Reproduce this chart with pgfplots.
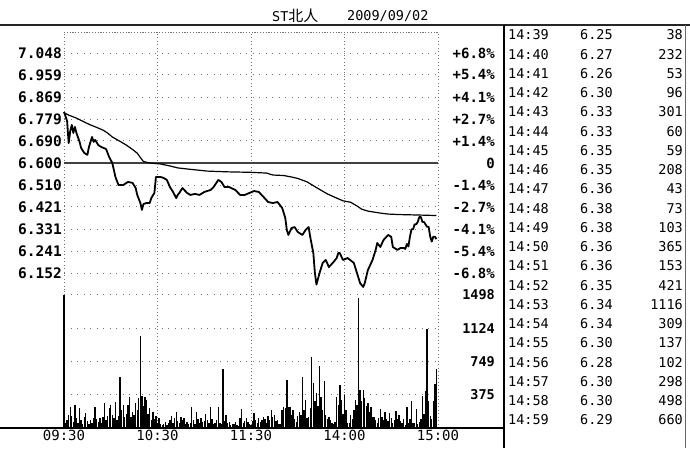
\documentclass[border=0pt]{standalone}
\usepackage{pgfplots}
\pgfplotsset{compat=1.18}
\usepackage{fontspec}
\setmainfont{DejaVu Sans Mono}
\newfontfamily\mono{DejaVu Sans Mono}
\newfontfamily\cjk{Noto Sans CJK SC}
\tikzset{
  hgrid/.style={black!55, line width=0.9pt, dash pattern=on 0.9pt off 5.6pt},
  vgrid/.style={black!55, line width=0.9pt, dash pattern=on 0.9pt off 2.6pt},
}
\newcommand\lab{\mono\bfseries\fontsize{14.5}{15}\selectfont}
\newcommand\tab{\mono\fontsize{13.5}{14}\selectfont}
\begin{document}
\begin{tikzpicture}[x=1pt,y=1pt]
\useasboundingbox (0,0) rectangle (690,448);
\fill[white] (0,0) rectangle (690,448);

% ---------- price panel ----------
\begin{axis}[
  at={(64pt,158pt)}, anchor=south west, scale only axis,
  width=374pt, height=258pt,
  xmin=0, xmax=240, ymin=6.0827, ymax=7.1336,
  axis line style={draw=none}, major tick length=0pt,
  xtick={0,60,120,180,240}, xticklabels={},
  ytick={6.152,6.241,6.331,6.421,6.510,6.600,6.690,6.779,6.869,6.959,7.048},
  yticklabels={6.152,6.241,6.331,6.421,6.510,6.600,6.690,6.779,6.869,6.959,7.048},
  yticklabel style={font=\lab, anchor=east, inner sep=0pt, xshift=-2pt},
  grid=major, x grid style={vgrid}, y grid style={hgrid},
  clip=false,
]
\draw[black!55, line width=0.9pt, dash pattern=on 1.2pt off 1.6pt] (rel axis cs:0,1) -- (rel axis cs:1,1);
\addplot[black!75, line width=1.3pt] coordinates {(0,6.6) (240,6.6)};
% average price
\addplot[black, line width=1.2pt] coordinates {
(0,6.805)(3,6.795)(8,6.783)(12,6.770)(17,6.755)(21,6.745)(25,6.734)(28,6.722)(31,6.706)
(36,6.688)(40,6.673)(44,6.655)(47,6.640)(49,6.622)(51,6.606)(55,6.600)(62,6.596)(68,6.588)
(73,6.580)(80,6.575)(92,6.567)(105,6.564)(120,6.562)(130,6.559)(134,6.551)(141,6.549)
(146,6.543)(150,6.537)(156,6.523)(162,6.500)(169,6.474)(175,6.457)(179,6.446)(184,6.440)
(188,6.425)(191,6.412)(195,6.404)(203,6.396)(208,6.392)(215,6.390)(228,6.388)(239,6.386)};
% price
\addplot[black, line width=1.8pt, line join=round] coordinates {
(0,6.808)(1,6.790)(2,6.770)(3,6.681)(4,6.730)(5,6.755)(6,6.722)(7,6.747)(8,6.722)(10,6.686)
(11,6.661)(13,6.641)(15,6.633)(16,6.665)(18,6.706)(19,6.686)(20,6.694)(22,6.673)(24,6.665)
(27,6.657)(29,6.624)(31,6.600)(33,6.543)(35,6.510)(38,6.510)(41,6.523)(44,6.519)(46,6.498)
(47,6.470)(49,6.437)(50,6.409)(51,6.433)(53,6.437)(55,6.437)(56,6.457)(58,6.478)(59,6.543)
(60,6.543)(62,6.543)(64,6.539)(66,6.531)(68,6.502)(70,6.482)(72,6.457)(73,6.470)(74,6.478)
(76,6.498)(79,6.478)(81,6.470)(84,6.474)(87,6.470)(90,6.482)(94,6.490)(96,6.502)(99,6.531)
(101,6.523)(103,6.502)(106,6.502)(110,6.490)(113,6.470)(116,6.470)(119,6.478)(122,6.486)
(125,6.482)(128,6.462)(131,6.441)(134,6.437)(137,6.441)(140,6.417)(142,6.376)(143,6.327)
(144,6.307)(146,6.335)(148,6.339)(150,6.319)(153,6.307)(155,6.327)(157,6.339)(158,6.299)
(160,6.233)(161,6.152)(162,6.105)(164,6.152)(166,6.193)(168,6.205)(170,6.176)(173,6.197)
(175,6.213)(176,6.233)(177,6.233)(179,6.205)(182,6.213)(186,6.193)(188,6.152)(190,6.111)
(192,6.095)(193,6.111)(195,6.164)(198,6.205)(200,6.246)(201,6.274)(203,6.258)(205,6.286)
(208,6.307)(210,6.299)(211,6.258)(214,6.246)(216,6.254)(218,6.254)(219,6.25)(220,6.27)
(221,6.26)(222,6.30)(223,6.33)(224,6.33)(225,6.35)(226,6.35)(227,6.36)(228,6.38)(229,6.38)
(230,6.36)(231,6.36)(232,6.35)(233,6.34)(234,6.34)(235,6.30)(236,6.28)(237,6.30)(238,6.30)
(239,6.29)};
\end{axis}

% ---------- percent labels (right) ----------
\begin{axis}[
  at={(64pt,158pt)}, anchor=south west, scale only axis,
  width=374pt, height=258pt,
  xmin=0, xmax=240, ymin=6.0827, ymax=7.1336,
  hide x axis, axis y line*=right, axis line style={draw=none}, major tick length=0pt,
  ytick={6.152,6.241,6.331,6.421,6.510,6.600,6.690,6.779,6.869,6.959,7.048},
  yticklabels={-6.8\%,-5.4\%,-4.1\%,-2.7\%,-1.4\%,0,+1.4\%,+2.7\%,+4.1\%,+5.4\%,+6.8\%},
  yticklabel style={font=\lab\fontsize{14}{15}\selectfont, anchor=east, inner sep=0pt, xshift=57pt},
]
\end{axis}

% ---------- volume panel ----------
\begin{axis}[
  at={(64pt,20pt)}, anchor=south west, scale only axis,
  width=374pt, height=138pt,
  xmin=0, xmax=240, ymin=0, ymax=1551,
  axis line style={draw=none}, major tick length=0pt,
  xtick={0,60,120,180,240}, xticklabels={09:30,10:30,11:30,14:00,15:00},
  xticklabel style={font=\mono\fontsize{14}{15}\selectfont, anchor=north, inner sep=0pt, yshift=-2pt},
  ytick={375,749,1124,1498}, yticklabels={375,749,1124,1498},
  yticklabel pos=right,
  yticklabel style={font=\lab\fontsize{13.5}{15}\selectfont, anchor=east, inner sep=0pt, xshift=57pt},
  grid=major, x grid style={vgrid}, y grid style={hgrid},
  clip=false,
]
\addplot[ycomb, black, line width=1.35pt] coordinates {
(0,1498)(1,60)(2,90)(3,150)(4,240)(5,130)(6,70)(7,260)(8,110)(9,60)
(10,220)(11,90)(12,50)(13,120)(14,170)(15,80)(16,40)(17,90)(18,60)(19,110)
(20,240)(21,100)(22,70)(23,110)(24,60)(25,120)(26,280)(27,90)(28,140)(29,220)
(30,260)(31,150)(32,110)(33,290)(34,90)(35,130)(36,575)(37,200)(38,260)(39,120)
(40,160)(41,260)(42,350)(43,120)(44,185)(45,150)(46,280)(47,200)(48,340)(49,1030)
(50,355)(51,250)(52,350)(53,320)(54,160)(55,225)(56,90)(57,185)(58,100)(59,130)
(60,60)(61,110)(62,40)(63,30)(64,50)(65,70)(66,30)(67,60)(68,90)(69,130)
(70,60)(71,110)(72,175)(73,80)(74,60)(75,120)(76,90)(77,115)(78,50)(79,70)
(80,40)(81,60)(82,240)(83,90)(84,50)(85,175)(86,100)(87,60)(88,110)(89,70)
(90,80)(91,160)(92,90)(93,60)(94,235)(95,100)(96,40)(97,60)(98,90)(99,235)
(100,60)(101,50)(102,660)(103,80)(104,150)(105,60)(106,70)(107,30)(108,40)(109,40)
(110,70)(111,30)(112,20)(113,110)(114,215)(115,60)(116,80)(117,110)(118,70)(119,40)
(120,30)(121,80)(122,165)(123,90)(124,60)(125,110)(126,70)(127,90)(128,128)(129,100)
(130,60)(131,140)(132,90)(133,200)(134,120)(135,146)(136,80)(137,90)(138,50)(139,40)
(140,200)(141,232)(142,220)(143,545)(144,240)(145,232)(146,150)(147,200)(148,100)(149,71)
(150,130)(151,184)(152,150)(153,570)(154,200)(155,315)(156,110)(157,128)(158,220)(159,800)
(160,502)(161,300)(162,390)(163,250)(164,700)(165,352)(166,200)(167,530)(168,146)(169,100)
(170,128)(171,90)(172,60)(173,50)(174,71)(175,352)(176,260)(177,480)(178,315)(179,160)
(180,371)(181,200)(182,52)(183,60)(184,146)(185,100)(186,200)(187,315)(188,260)(189,1460)
(190,427)(191,300)(192,427)(193,334)(194,250)(195,278)(196,180)(197,232)(198,120)(199,128)
(200,90)(201,60)(202,110)(203,210)(204,120)(205,90)(206,184)(207,100)(208,80)(209,165)
(210,110)(211,60)(212,90)(213,195)(214,100)(215,146)(216,80)(217,60)(218,100)(219,38)
(220,232)(221,53)(222,96)(223,301)(224,60)(225,59)(226,208)(227,43)(228,73)(229,103)
(230,365)(231,153)(232,421)(233,1116)(234,309)(235,137)(236,102)(237,298)(238,498)(239,660)};
\end{axis}

% ---------- frame lines ----------
\draw[black!85, line width=1.6pt] (0,423) -- (690,423);
\draw[black, line width=1.5pt] (0,20) -- (504,20);
\draw[black, line width=1.3pt] (504,423) -- (504,0);
\draw[black!60, line width=1pt] (685,423) -- (685,0);

% ---------- title ----------
\node[anchor=west, inner sep=0pt] at (272,432) {\tab ST{\cjk\fontsize{15}{16}\selectfont 北人}};
\node[anchor=west, inner sep=0pt] at (347,432) {\tab 2009/09/02};

% ---------- tick table ----------
\foreach \t/\p/\v [count=\i from 0] in {
14:39/6.25/38, 14:40/6.27/232, 14:41/6.26/53, 14:42/6.30/96, 14:43/6.33/301,
14:44/6.33/60, 14:45/6.35/59, 14:46/6.35/208, 14:47/6.36/43, 14:48/6.38/73,
14:49/6.38/103, 14:50/6.36/365, 14:51/6.36/153, 14:52/6.35/421, 14:53/6.34/1116,
14:54/6.34/309, 14:55/6.30/137, 14:56/6.28/102, 14:57/6.30/298, 14:58/6.30/498,
14:59/6.29/660} {
  \node[anchor=west, inner sep=0pt] at (508,{413-19.25*\i}) {\tab \t};
  \node[anchor=west, inner sep=0pt] at (580,{413-19.25*\i}) {\tab \p};
  \node[anchor=east, inner sep=0pt] at (683,{413-19.25*\i}) {\tab \v};
}
\end{tikzpicture}
\end{document}
